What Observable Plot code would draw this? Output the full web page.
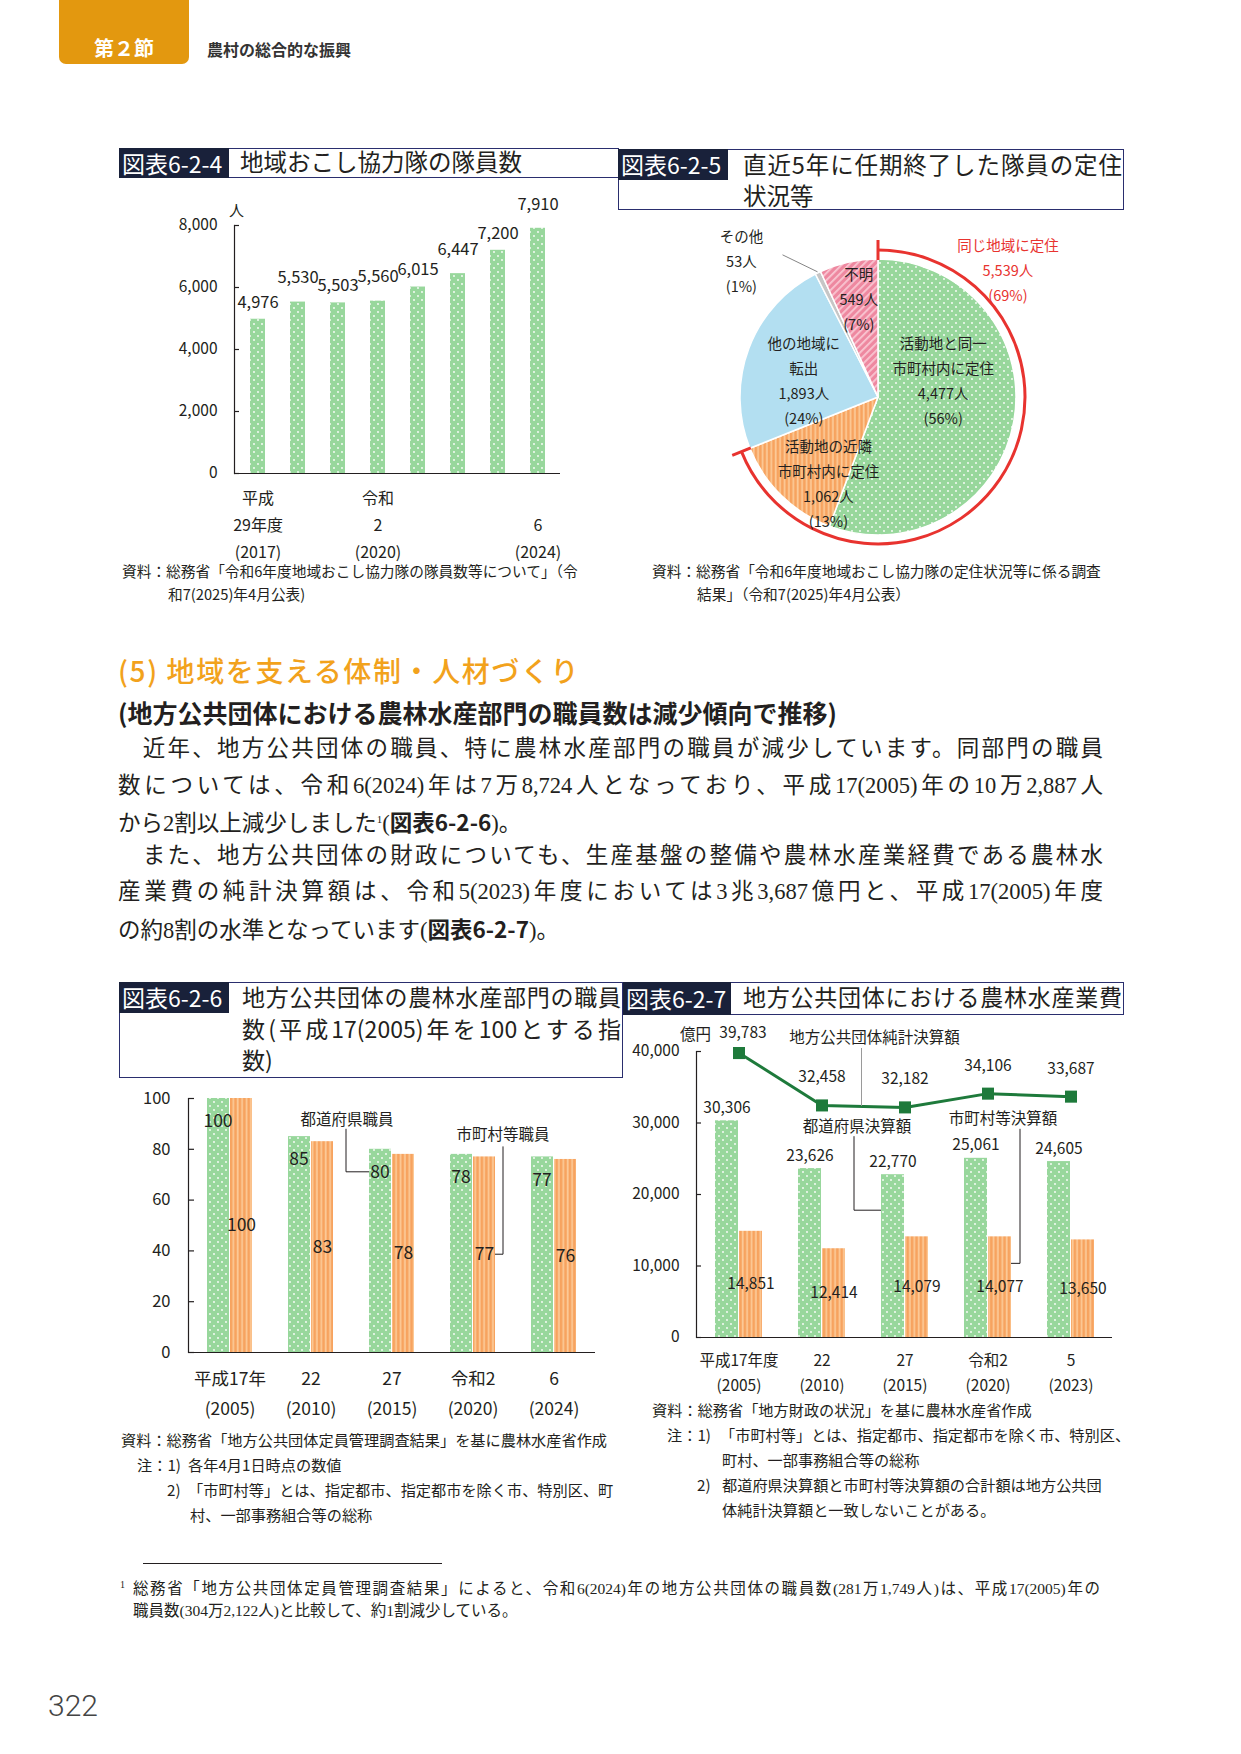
<!DOCTYPE html>
<html lang="ja"><head><meta charset="utf-8">
<script src="https://cdn.jsdelivr.net/npm/d3@7"></script>
<script src="https://cdn.jsdelivr.net/npm/@observablehq/plot@0.6"></script>
<style>
html,body{margin:0;padding:0;background:#fff}
body{position:relative;width:1241px;height:1754px;overflow:hidden;font-family:"Noto Sans CJK JP","Noto Sans",sans-serif;color:#231f20}
.t{position:absolute;white-space:nowrap;line-height:1}
.j{position:absolute;line-height:1;text-align:justify;text-align-last:justify}
.box{position:absolute;border:1.5px solid #2a2e6e;box-sizing:border-box}
.lab{position:absolute;background:#19213a;color:#fff;font-size:23px;padding-left:3px;box-sizing:border-box;white-space:nowrap}
.chart{position:absolute}
.chart svg{overflow:visible}
.ser{font-family:"Liberation Serif","Noto Sans CJK JP",serif}
</style></head><body>
<svg width="0" height="0" style="position:absolute;left:0;top:0">
<defs>
<pattern id="pGreen" width="8" height="8" patternUnits="userSpaceOnUse">
<rect width="8" height="8" fill="#98d79c"/>
<circle cx="2" cy="2" r="0.9" fill="#ffffff"/>
<circle cx="6" cy="6" r="0.9" fill="#ffffff"/>
</pattern>
<pattern id="pOrange" width="4.4" height="4" patternUnits="userSpaceOnUse">
<rect width="4.4" height="4" fill="#f7a35f"/>
<rect x="2.4" width="1.8" height="4" fill="#fcc996"/>
</pattern>
<pattern id="pPink" width="5" height="5" patternUnits="userSpaceOnUse" patternTransform="rotate(45)">
<rect width="5" height="5" fill="#ee88a0"/>
<rect width="1.8" height="5" fill="#f9c6d2"/>
</pattern>
</defs>
</svg>
<script>
// ================= DATA =================
// 図表6-2-4 地域おこし協力隊の隊員数
const kyoryokuYears = ["2017","2018","2019","2020","2021","2022","2023","2024"];
const kyoryokuCounts = [4976, 5530, 5503, 5560, 6015, 6447, 7200, 7910];
const kyoryokuTickLabels = ["平成\n29年度\n(2017)", "", "", "令和\n2\n(2020)", "", "", "", "\n6\n(2024)"];
const kyoryokuYTicks = [0, 2000, 4000, 6000, 8000];

// 図表6-2-5 直近5年に任期終了した隊員の定住状況等
const settleCats = ["活動地と同一市町村内に定住", "活動地の近隣市町村内に定住", "他の地域に転出", "その他", "不明"];
const settleLabels = ["活動地と同一\n市町村内に定住", "活動地の近隣\n市町村内に定住", "他の地域に\n転出", "その他", "不明"];
const settleCounts = [4477, 1062, 1893, 53, 549];
const settlePct = [56, 13, 24, 1, 7];
const sameRegionLabel = "同じ地域に定住";
const sameRegionCount = 5539;
const sameRegionPct = 69;

// 図表6-2-6 地方公共団体の農林水産部門の職員数（指数）
const staffYears = ["2005","2010","2015","2020","2024"];
const staffTickLabels = ["平成17年\n(2005)", "22\n(2010)", "27\n(2015)", "令和2\n(2020)", "6\n(2024)"];
const prefStaffIndex = [100, 85, 80, 78, 77];
const muniStaffIndex = [100, 83, 78, 77, 76];
const staffYTicks = [0, 20, 40, 60, 80, 100];

// 図表6-2-7 地方公共団体における農林水産業費（億円）
const budgetYears = ["2005","2010","2015","2020","2023"];
const budgetTickLabels = ["平成17年度\n(2005)", "22\n(2010)", "27\n(2015)", "令和2\n(2020)", "5\n(2023)"];
const netTotalBudget = [39783, 32458, 32182, 34106, 33687];
const prefBudget = [30306, 23626, 22770, 25061, 24605];
const muniBudget = [14851, 12414, 14079, 14077, 13650];
const budgetYTicks = [0, 10000, 20000, 30000, 40000];

// ================= HELPERS =================
const FONT = "'Noto Sans CJK JP','Noto Sans',sans-serif";
const INK = "#231f20";
const fmt = d3.format(",");
const baseStyle = {fontFamily: FONT, fontSize: "16px", color: INK, background: "transparent", overflow: "visible"};

function T(x, cy, fs, html, opts = {}) {
  const d = document.createElement("div");
  d.className = opts.w ? "j" : "t";
  d.style.left = x + "px";
  d.style.top = (cy - fs * 0.55) + "px";
  d.style.fontSize = fs + "px";
  if (opts.w) d.style.width = opts.w + "px";
  if (opts.cls) d.className += " " + opts.cls;
  if (opts.style) d.style.cssText += opts.style;
  d.innerHTML = html;
  document.body.appendChild(d);
}
function div(cls, l, t, w, h, html = "", style = "") {
  const d = document.createElement("div");
  d.className = cls;
  d.style.cssText = `left:${l}px;top:${t}px;width:${w}px;height:${h}px;${style}`;
  d.innerHTML = html;
  document.body.appendChild(d);
}
function mount(el, left, top) {
  const d = document.createElement("div");
  d.className = "chart";
  d.style.left = left + "px";
  d.style.top = top + "px";
  d.appendChild(el);
  document.body.appendChild(d);
}

// ================= HEADER =================
div("abs", 59, 0, 130, 64, "", "position:absolute;background:#e3980f;border-radius:0 0 7px 7px");
div("t", 59, 37, 130, 22, "第２節", "position:absolute;text-align:center;font-size:20px;font-weight:700;color:#fff;line-height:22px");
T(207, 50, 16, "農村の総合的な振興", {style: "font-weight:700;color:#333"});

// ================= TITLE BOXES =================
div("box", 119, 148, 500, 30);
div("lab", 119, 148, 110, 30, "図表6-2-4", "line-height:30px");
T(240, 163, 23.5, "地域おこし協力隊の隊員数");

div("box", 618, 149, 506, 61);
div("lab", 618, 149, 110, 31, "図表6-2-5", "line-height:31px");
T(743, 166, 23.5, "直近5年に任期終了した隊員の定住", {w: 379});
T(743, 197, 23.5, "状況等");

div("box", 119, 982, 504, 96);
div("lab", 119, 982, 110, 31, "図表6-2-6", "line-height:31px");
T(242, 998, 23, "地方公共団体の農林水産部門の職員", {w: 379});
T(242, 1030, 23, "数(平成17(2005)年を100とする指", {w: 379});
T(242, 1061, 23, "数)");

div("box", 623, 982, 501, 33);
div("lab", 623, 982, 108, 33, "図表6-2-7", "line-height:33px");
T(743, 998, 23, "地方公共団体における農林水産業費", {w: 379});

// ================= CHART 6-2-4 =================
const d1 = kyoryokuYears.map((year, i) => ({year, count: kyoryokuCounts[i], tick: kyoryokuTickLabels[i], i}));
const tick1 = new Map(d1.map(d => [d.year, d.tick]));
const c1 = Plot.plot({
  width: 460, height: 380, marginLeft: 114, marginRight: 20, marginTop: 35, marginBottom: 97,
  style: baseStyle,
  x: {domain: kyoryokuYears, paddingInner: 0.63, paddingOuter: 0.315, label: null},
  y: {domain: [0, 8000], label: null},
  marks: [
    Plot.barY(d1, {x: "year", y: "count", fill: "url(#pGreen)"}),
    Plot.ruleY([0], {stroke: INK, strokeWidth: 1.2}),
    Plot.frame({anchor: "left", stroke: INK, strokeWidth: 1.2}),
    Plot.tickY(kyoryokuYTicks, {y: d => d, stroke: INK, strokeWidth: 1.2, insetRight: 321}),
    Plot.axisY(kyoryokuYTicks, {tickSize: 0, tickPadding: 17, tickFormat: fmt, fontSize: 15.5, label: null}),
    Plot.axisX({tickSize: 0, tickPadding: 11, tickFormat: d => tick1.get(d), fontSize: 16, lineHeight: 1.69, label: null}),
    // labels staggered so neighbours do not collide
    Plot.text(d1.filter(d => d.i % 2 === 0), {x: "year", y: "count", text: d => fmt(d.count), dy: -17, fontSize: 16.5}),
    Plot.text(d1.filter(d => d.i % 2 === 1), {x: "year", y: "count", text: d => fmt(d.count), dy: -24, fontSize: 16.5}),
    Plot.text(["人"], {frameAnchor: "top-left", textAnchor: "middle", lineAnchor: "middle", dx: 2, dy: -14, fontSize: 15})
  ]
});
mount(c1, 120, 190);
T(122, 572, 14.7, "資料：総務省「令和6年度地域おこし協力隊の隊員数等について」（令");
T(168, 595, 14.7, "和7(2025)年4月公表)");

// ================= CHART 6-2-5 (pie) =================
const pieData = settleCats.map((cat, i) => ({cat, label: settleLabels[i], count: settleCounts[i], pct: settlePct[i]}));
const arcs = d3.pie().sort(null).value(d => d.count).startAngle(0).endAngle(2 * Math.PI)(pieData);
const R = 138;
const pieFill = Plot.scale({color: {type: "ordinal", domain: settleCats,
  range: ["url(#pGreen)", "url(#pOrange)", "#b3dff1", "#c6c6c6", "url(#pPink)"]}});
const labelArc = d3.arc().innerRadius(83).outerRadius(83);
const nudge = [[-17, -34], [8, 25], [3, 10], [-101, -64], [-2, -19]];
const pieLabels = arcs.map((a, i) => {
  const [x, y] = labelArc.centroid(a);
  return {x: x + nudge[i][0], y: y + nudge[i][1], text: `${a.data.label}\n${fmt(a.data.count)}人\n(${a.data.pct}%)`};
});
const polar = (a, r) => [r * Math.sin(a), -r * Math.cos(a)];
const sameEnd = arcs[1].endAngle;
const samePos = polar(Math.PI / 4, 183);
const sameLab = [{x: samePos[0], y: samePos[1], text: `${sameRegionLabel}\n${fmt(sameRegionCount)}人\n(${sameRegionPct}%)`}];

const c2 = Plot.plot({
  width: 500, height: 330, margin: 0,
  style: baseStyle,
  x: {domain: [-258, 242], range: [0, 500], axis: null},
  y: {domain: [-182, 148], range: [0, 330], axis: null},
  marks: [
    (index, scales) => {
      const g = d3.create("svg:g").attr("transform", `translate(${scales.x(0)},${scales.y(0)})`);
      g.selectAll("path.s").data(arcs).join("path").attr("class", "s")
        .attr("d", d3.arc().innerRadius(0).outerRadius(R))
        .attr("fill", d => pieFill.apply(d.data.cat))
        .attr("stroke", "#fff").attr("stroke-width", 1.5);
      const p = d3.path();
      p.arc(0, 0, 147, -Math.PI / 2, sameEnd - Math.PI / 2);
      g.append("path").attr("d", p.toString()).attr("fill", "none").attr("stroke", "#e8332f").attr("stroke-width", 3);
      for (const a of [0, sameEnd]) {
        const [x1, y1] = polar(a, 137), [x2, y2] = polar(a, 157);
        g.append("line").attr("x1", x1).attr("y1", y1).attr("x2", x2).attr("y2", y2)
          .attr("stroke", "#e8332f").attr("stroke-width", 3);
      }
      const gm = (arcs[3].startAngle + arcs[3].endAngle) / 2;
      const [sx, sy] = polar(gm, R + 1);
      g.append("line").attr("x1", sx).attr("y1", sy).attr("x2", sx - 35).attr("y2", sy - 17)
        .attr("stroke", "#666").attr("stroke-width", 0.8);
      return g.node();
    },
    Plot.text(pieLabels, {x: "x", y: "y", text: "text", fontSize: 14.5, lineHeight: 1.72, fill: INK}),
    Plot.text(sameLab, {x: "x", y: "y", text: "text", fontSize: 14.5, lineHeight: 1.72, fill: "#e8332f"})
  ]
});
mount(c2, 620, 215);
T(652, 572, 14.7, "資料：総務省「令和6年度地域おこし協力隊の定住状況等に係る調査");
T(697, 595, 14.7, "結果」（令和7(2025)年4月公表）");

// ================= TEXT SECTION =================
T(118, 671, 28, "(5) 地域を支える体制・人材づくり", {style: "color:#f2a21c;font-weight:500;letter-spacing:1.6px"});
T(118, 714, 25, "(地方公共団体における農林水産部門の職員数は減少傾向で推移)", {style: "font-weight:700"});
const PF = 22.5, PW = 985;
T(118, 750, PF, "　近年、地方公共団体の職員、特に農林水産部門の職員が減少しています。同部門の職員", {w: PW, cls: "ser"});
T(118, 787, PF, "数については、令和6(2024)年は7万8,724人となっており、平成17(2005)年の10万2,887人", {w: PW, cls: "ser"});
T(118, 822, PF, "から2割以上減少しました<sup style=\"font-size:11px\">1</sup>(<b style=\"font-family:'Noto Sans CJK JP'\">図表6-2-6</b>)。", {cls: "ser"});
T(118, 857, PF, "　また、地方公共団体の財政についても、生産基盤の整備や農林水産業経費である農林水", {w: PW, cls: "ser"});
T(118, 893, PF, "産業費の純計決算額は、令和5(2023)年度においては3兆3,687億円と、平成17(2005)年度", {w: PW, cls: "ser"});
T(118, 929, PF, "の約8割の水準となっています(<b style=\"font-family:'Noto Sans CJK JP'\">図表6-2-7</b>)。", {cls: "ser"});

// ================= CHART 6-2-6 =================
const d3d = staffYears.map((year, i) => ({year, pref: prefStaffIndex[i], muni: muniStaffIndex[i], tick: staffTickLabels[i]}));
const tick3 = new Map(d3d.map(d => [d.year, d.tick]));
const c3 = Plot.plot({
  width: 490, height: 342, marginLeft: 68, marginRight: 15, marginTop: 18, marginBottom: 70,
  style: baseStyle,
  x: {domain: staffYears, paddingInner: 0.447, paddingOuter: 0.2235, label: null},
  y: {domain: [0, 100], label: null},
  marks: [
    Plot.barY(d3d, {x: "year", y: "pref", fill: "url(#pGreen)", insetRight: 23}),
    Plot.barY(d3d, {x: "year", y: "muni", fill: "url(#pOrange)", insetLeft: 23}),
    Plot.ruleY([0], {stroke: INK, strokeWidth: 1.2}),
    Plot.frame({anchor: "left", stroke: INK, strokeWidth: 1.2}),
    Plot.tickY(staffYTicks, {y: d => d, stroke: INK, strokeWidth: 1.2, insetRight: 401}),
    Plot.axisY(staffYTicks, {tickSize: 0, tickPadding: 18, fontSize: 16.5, label: null}),
    Plot.axisX({tickSize: 0, tickPadding: 11, tickFormat: d => tick3.get(d), fontSize: 17.5, lineHeight: 1.71, label: null}),
    Plot.text(d3d, {x: "year", y: "pref", text: d => String(d.pref), dx: -12, dy: 23, fontSize: 17.5}),
    Plot.text(d3d, {x: "year", y: d => d.muni / 2, text: d => String(d.muni), dx: 11.5, fontSize: 17.5}),
    (index, {x, y}) => {
      const bw = x.bandwidth();
      const g = d3.create("svg:g");
      const ln = g.append("g").attr("fill", "none").attr("stroke", INK).attr("stroke-width", 1);
      const tx = g.append("g").attr("font-size", 15.5).attr("text-anchor", "middle").attr("fill", INK);
      const gx = x(staffYears[2]), gy = y(prefStaffIndex[2]);
      ln.append("path").attr("d", `M${gx},${gy + 23}H${gx - 23}V${gy - 20}`);
      tx.append("text").attr("x", gx - 22).attr("y", gy - 29).attr("dy", "0.36em").text("都道府県職員");
      const ox = x(staffYears[3]) + bw, oTop = y(muniStaffIndex[3]), oMid = y(muniStaffIndex[3] / 2);
      ln.append("path").attr("d", `M${ox},${oMid}H${ox + 8}V${oTop - 10}`);
      tx.append("text").attr("x", ox + 8).attr("y", oTop - 22).attr("dy", "0.36em").text("市町村等職員");
      return g.node();
    }
  ]
});
mount(c3, 120, 1080);
const NF = 15.2;
T(121, 1440, NF, "資料：総務省「地方公共団体定員管理調査結果」を基に農林水産省作成");
T(137, 1465, NF, "注：1)");
T(188, 1465, NF, "各年4月1日時点の数値");
T(167, 1490, NF, "2)");
T(188, 1490, NF, "「市町村等」とは、指定都市、指定都市を除く市、特別区、町");
T(190, 1515, NF, "村、一部事務組合等の総称");

// ================= CHART 6-2-7 =================
const d4 = budgetYears.map((year, i) => ({year, net: netTotalBudget[i], pref: prefBudget[i], muni: muniBudget[i], tick: budgetTickLabels[i], i}));
const tick4 = new Map(d4.map(d => [d.year, d.tick]));
const c4 = Plot.plot({
  width: 500, height: 380, marginLeft: 71, marginRight: 13, marginTop: 33, marginBottom: 61,
  style: baseStyle,
  x: {domain: budgetYears, paddingInner: 0.435, paddingOuter: 0.2175, label: null},
  y: {domain: [0, 40000], label: null},
  marks: [
    Plot.barY(d4, {x: "year", y: "pref", fill: "url(#pGreen)", insetRight: 24}),
    Plot.barY(d4, {x: "year", y: "muni", fill: "url(#pOrange)", insetLeft: 24}),
    Plot.ruleY([0], {stroke: INK, strokeWidth: 1.2}),
    Plot.frame({anchor: "left", stroke: INK, strokeWidth: 1.2}),
    Plot.tickY(budgetYTicks, {y: d => d, stroke: INK, strokeWidth: 1.2, insetRight: 411}),
    Plot.axisY(budgetYTicks, {tickSize: 0, tickPadding: 17, tickFormat: fmt, fontSize: 15.5, label: null}),
    Plot.axisX({tickSize: 0, tickPadding: 11, tickFormat: d => tick4.get(d), fontSize: 15.5, lineHeight: 1.61, label: null}),
    Plot.line(d4, {x: "year", y: "net", stroke: "#1e7a3b", strokeWidth: 3}),
    Plot.dot(d4, {x: "year", y: "net", symbol: "square", r: 6.8, fill: "#1e7a3b"}),
    // first label sits lower (beside the unit), others above their markers
    Plot.text(d4.filter(d => d.i === 0), {x: "year", y: "net", text: d => fmt(d.net), dx: 4, dy: -20, fontSize: 15.5}),
    Plot.text(d4.filter(d => d.i > 0), {x: "year", y: "net", text: d => fmt(d.net), dy: -28, fontSize: 15.5}),
    Plot.text(d4, {x: "year", y: "pref", text: d => fmt(d.pref), dx: -12, dy: -13, fontSize: 15.5}),
    Plot.text(d4, {x: "year", y: d => d.muni / 2, text: d => fmt(d.muni), dx: 12, fontSize: 15.5}),
    Plot.text(["億円"], {frameAnchor: "top-left", textAnchor: "middle", lineAnchor: "middle", dx: -1, dy: -16, fontSize: 15.5}),
    (index, {x, y}) => {
      const bw = x.bandwidth();
      const g = d3.create("svg:g");
      const tx = g.append("g").attr("font-size", 15.5).attr("text-anchor", "middle").attr("fill", INK);
      // 純計決算額
      const cA = x(budgetYears[1]) + bw / 2, cB = x(budgetYears[2]) + bw / 2;
      const lx = cA + 40, tt = (lx - cA) / (cB - cA);
      const ly = y(netTotalBudget[1]) + tt * (y(netTotalBudget[2]) - y(netTotalBudget[1]));
      const fy = y(40000);
      g.append("path").attr("d", `M${lx},${fy - 3}V${ly}`).attr("stroke", "#9a9a9a").attr("stroke-width", 1).attr("fill", "none");
      tx.append("text").attr("x", cA + 53).attr("y", fy - 14).attr("dy", "0.36em").text("地方公共団体純計決算額");
      // 都道府県決算額
      const gx = x(budgetYears[2]), gy = y(prefBudget[2]);
      g.append("path").attr("d", `M${gx},${gy + 36}H${gx - 27}V${gy - 38}`).attr("stroke", INK).attr("fill", "none");
      tx.append("text").attr("x", gx - 24).attr("y", gy - 48).attr("dy", "0.36em").text("都道府県決算額");
      // 市町村等決算額
      const ox = x(budgetYears[3]) + bw, oy = y(muniBudget[3]), gy4 = y(prefBudget[3]);
      g.append("path").attr("d", `M${ox},${oy + 27}H${ox + 9}V${gy4 - 29}`).attr("stroke", INK).attr("fill", "none");
      tx.append("text").attr("x", ox - 8).attr("y", gy4 - 39).attr("dy", "0.36em").text("市町村等決算額");
      return g.node();
    }
  ]
});
mount(c4, 625, 1018);
T(652, 1410, NF, "資料：総務省「地方財政の状況」を基に農林水産省作成");
T(667, 1435, NF, "注：1)");
T(720, 1435, NF, "「市町村等」とは、指定都市、指定都市を除く市、特別区、");
T(722, 1460, NF, "町村、一部事務組合等の総称");
T(697, 1485, NF, "2)");
T(722, 1485, NF, "都道府県決算額と市町村等決算額の合計額は地方公共団");
T(722, 1510, NF, "体純計決算額と一致しないことがある。");

// ================= FOOTNOTE =================
div("abs", 143, 1563, 299, 1, "", "position:absolute;background:#231f20");
T(120, 1585, 10, "1", {cls: "ser"});
T(133, 1590, 15.5, "総務省「地方公共団体定員管理調査結果」によると、令和6(2024)年の地方公共団体の職員数(281万1,749人)は、平成17(2005)年の", {w: 967, cls: "ser"});
T(133, 1612, 15.5, "職員数(304万2,122人)と比較して、約1割減少している。", {cls: "ser"});
T(48, 1707, 30, "322", {style: "font-family:Roboto,'Noto Sans',sans-serif;font-weight:300;color:#444"});
</script>
</body></html>
